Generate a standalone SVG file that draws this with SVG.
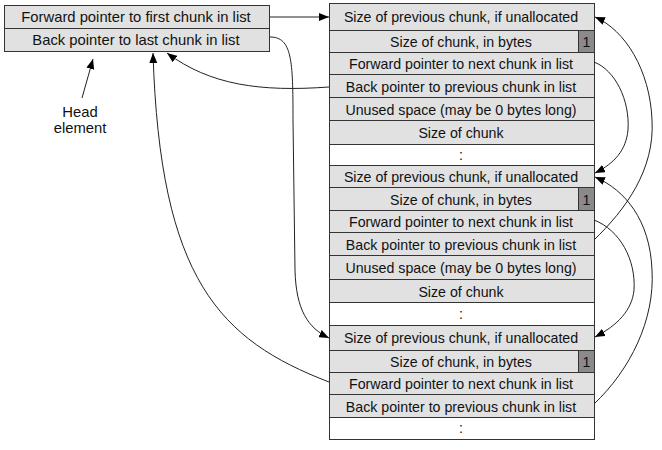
<svg xmlns="http://www.w3.org/2000/svg" width="662" height="450" viewBox="0 0 662 450">
<style>
.c{fill:#e1e1e1;stroke:#333;stroke-width:1}
.w{fill:#fff;stroke:#333;stroke-width:1}
.d{fill:#8a8a8a;stroke:#333;stroke-width:1}
text{font-family:"Liberation Sans",Arial,sans-serif;font-size:14.2px;fill:#111;text-anchor:middle}
.h{font-size:14.8px}
.e{fill:none;stroke:#222;stroke-width:1}
</style>
<defs>
<marker id="ah" viewBox="0 0 10 8" refX="10" refY="4" markerWidth="10" markerHeight="8" markerUnits="userSpaceOnUse" orient="auto">
<path d="M0,0 L10,4 L0,8 z" fill="#000"/>
</marker>
</defs>
<rect width="662" height="450" fill="#fff"/>
<g id="head">
<rect class="c" x="4.5" y="5.5" width="265" height="23"/>
<text class="h" x="136" y="22">Forward pointer to first chunk in list</text>
<rect class="c" x="4.5" y="28.5" width="265" height="23"/>
<text class="h" x="136" y="45">Back pointer to last chunk in list</text>
</g>
<g id="head-label">
<text class="h" x="80" y="117">Head</text>
<text class="h" x="80" y="133">element</text>
</g>
<g id="chunk1">
<rect class="c" x="329.5" y="3.5" width="265" height="27"/>
<text x="461" y="22">Size of previous chunk, if unallocated</text>
<rect class="c" x="329.5" y="30.5" width="265" height="22"/>
<rect class="d" x="578.5" y="30.5" width="16" height="22"/>
<text x="461" y="46.5">Size of chunk, in bytes</text>
<text x="586.5" y="46.5">1</text>
<rect class="c" x="329.5" y="52.5" width="265" height="22"/>
<text x="461" y="69">Forward pointer to next chunk in list</text>
<rect class="c" x="329.5" y="74.5" width="265" height="23"/>
<text x="461" y="91.5">Back pointer to previous chunk in list</text>
<rect class="c" x="329.5" y="97.5" width="265" height="23"/>
<text x="461" y="114.5">Unused space (may be 0 bytes long)</text>
<rect class="c" x="329.5" y="120.5" width="265" height="24"/>
<text x="461" y="138">Size of chunk</text>
<rect class="w" x="329.5" y="144.5" width="265" height="21"/>
<text x="461" y="159.5">:</text>
</g>
<g id="chunk2">
<rect class="c" x="329.5" y="165.5" width="265" height="22"/>
<text x="461" y="182">Size of previous chunk, if unallocated</text>
<rect class="c" x="329.5" y="187.5" width="265" height="23"/>
<rect class="d" x="578.5" y="187.5" width="16" height="23"/>
<text x="461" y="204.5">Size of chunk, in bytes</text>
<text x="586.5" y="204.5">1</text>
<rect class="c" x="329.5" y="210.5" width="265" height="22"/>
<text x="461" y="227">Forward pointer to next chunk in list</text>
<rect class="c" x="329.5" y="232.5" width="265" height="23"/>
<text x="461" y="249.5">Back pointer to previous chunk in list</text>
<rect class="c" x="329.5" y="255.5" width="265" height="24"/>
<text x="461" y="273">Unused space (may be 0 bytes long)</text>
<rect class="c" x="329.5" y="279.5" width="265" height="23"/>
<text x="461" y="296.5">Size of chunk</text>
<rect class="w" x="329.5" y="302.5" width="265" height="23"/>
<text x="461" y="318.5">:</text>
</g>
<g id="chunk3">
<rect class="c" x="329.5" y="325.5" width="265" height="25"/>
<text x="461" y="343">Size of previous chunk, if unallocated</text>
<rect class="c" x="329.5" y="350.5" width="265" height="22"/>
<rect class="d" x="578.5" y="350.5" width="16" height="22"/>
<text x="461" y="367">Size of chunk, in bytes</text>
<text x="586.5" y="367">1</text>
<rect class="c" x="329.5" y="372.5" width="265" height="22"/>
<text x="461" y="389">Forward pointer to next chunk in list</text>
<rect class="c" x="329.5" y="394.5" width="265" height="23"/>
<text x="461" y="411.5">Back pointer to previous chunk in list</text>
<rect class="w" x="329.5" y="417.5" width="265" height="22"/>
<text x="461" y="432.5">:</text>
</g>
<g id="connectors">
<path class="e" d="M82,98 L93,59" marker-end="url(#ah)"/>
<path class="e" d="M270,17 L329,17" marker-end="url(#ah)"/>
<path class="e" d="M270,37 C292,37 293,60 293,120 L295,270 C296,310 308,328 329,338" marker-end="url(#ah)"/>
<path class="e" d="M329,87 C260,92 210,85 167,53" marker-end="url(#ah)"/>
<path class="e" d="M329,382 C220,340 160,280 153,53" marker-end="url(#ah)"/>
<path class="e" d="M594,62 C615,70 630,100 628,130 C626,150 615,163 595,173" marker-end="url(#ah)"/>
<path class="e" d="M594,240 C625,210 655,170 652,120 C650,70 625,30 595,17" marker-end="url(#ah)"/>
<path class="e" d="M594,404 C630,370 655,320 652,270 C650,220 625,190 595,177" marker-end="url(#ah)"/>
<path class="e" d="M594,220 C620,230 636,260 634,290 C632,310 618,325 595,337" marker-end="url(#ah)"/>
</g>
</svg>
